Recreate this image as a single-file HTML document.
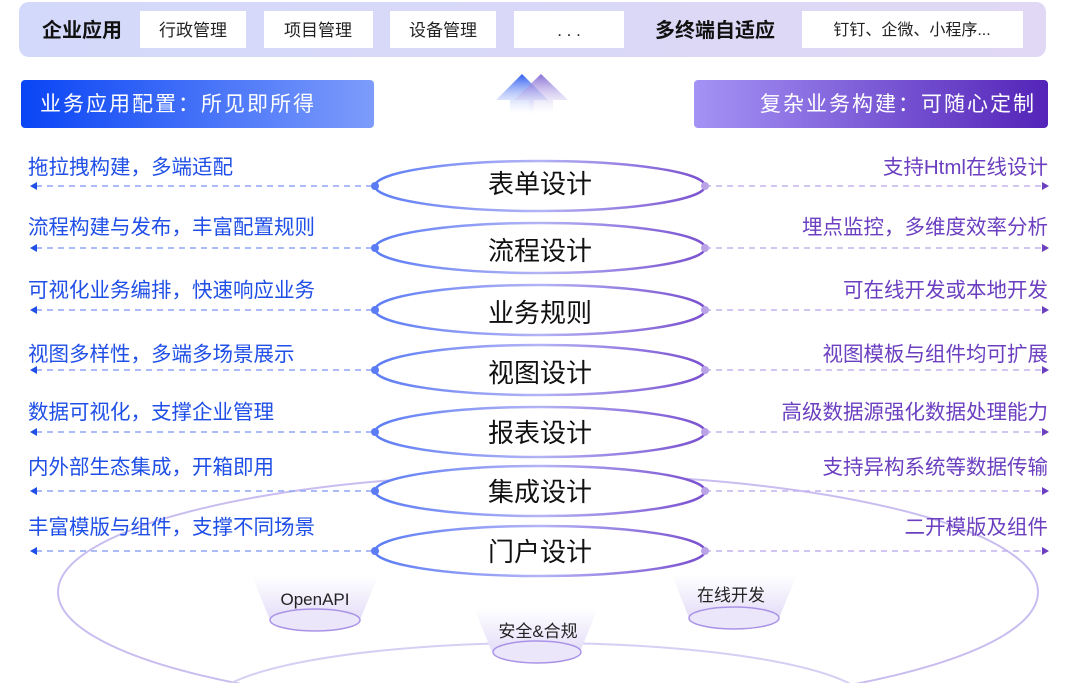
<!DOCTYPE html>
<html><head><meta charset="utf-8"><style>
body{margin:0;width:1080px;height:683px;overflow:hidden;background:#fff;font-family:"Liberation Sans","Noto Sans CJK SC",sans-serif}
svg{display:block}
</style></head><body>
<svg width="1080" height="683" viewBox="0 0 1080 683" xmlns="http://www.w3.org/2000/svg" font-family="Liberation Sans, Noto Sans CJK SC, sans-serif">
<defs>
<linearGradient id="top" x1="0" x2="1"><stop offset="0" stop-color="#d3d9fb"/><stop offset="1" stop-color="#e0d8f4"/></linearGradient>
<linearGradient id="lb" x1="0" x2="1"><stop offset="0" stop-color="#0a45f5"/><stop offset="1" stop-color="#7d9cfb"/></linearGradient>
<linearGradient id="rb" x1="0" x2="1"><stop offset="0" stop-color="#a493f5"/><stop offset="1" stop-color="#5424b8"/></linearGradient>
<linearGradient id="ring" x1="0" x2="1"><stop offset="0" stop-color="#5b7cf5"/><stop offset="0.5" stop-color="#b4b4f5"/><stop offset="1" stop-color="#7a4fcf"/></linearGradient>
<linearGradient id="cup" x1="0" x2="0" y1="0" y2="1"><stop offset="0" stop-color="#fff"/><stop offset="1" stop-color="#e4ddf8"/></linearGradient>
<linearGradient id="a1" x1="0" x2="0" y1="0" y2="1"><stop offset="0" stop-color="#2c5cf0"/><stop offset="1" stop-color="#fff" stop-opacity="0.2"/></linearGradient>
<linearGradient id="a2" x1="0" x2="0" y1="0" y2="1"><stop offset="0" stop-color="#7b5fd0"/><stop offset="1" stop-color="#fff" stop-opacity="0.2"/></linearGradient>
</defs>
<rect x="19" y="2" width="1027" height="55" rx="10" fill="url(#top)"/>
<text x="42" y="37" font-size="20" font-weight="bold" fill="#111">企业应用</text>
<g font-size="17" fill="#222" text-anchor="middle">
<rect x="140" y="11" width="106" height="37" fill="#fff"/><text x="193" y="36">行政管理</text>
<rect x="264" y="11" width="109" height="37" fill="#fff"/><text x="318" y="36">项目管理</text>
<rect x="390" y="11" width="106" height="37" fill="#fff"/><text x="443" y="36">设备管理</text>
<rect x="514" y="11" width="110" height="37" fill="#fff"/><text x="569" y="36">. . .</text>
<rect x="802" y="11" width="221" height="37" fill="#fff"/><text x="912" y="35" font-size="16">钉钉、企微、小程序...</text>
</g>
<text x="655" y="37" font-size="20" font-weight="bold" fill="#111">多终端自适应</text>
<rect x="21" y="80" width="353" height="48" rx="4" fill="url(#lb)"/>
<text x="40" y="111" font-size="21" fill="#fff" letter-spacing="2">业务应用配置：所见即所得</text>
<rect x="694" y="80" width="354" height="48" rx="4" fill="url(#rb)"/>
<text x="1036" y="111" font-size="21" fill="#fff" text-anchor="end" letter-spacing="2">复杂业务构建：可随心定制</text>
<path d="M496 100 L522 74 L548 100 L534 100 L534 114 L510 114 L510 100Z" fill="url(#a1)"/>
<path d="M514 100 L541 74 L568 100 L553 100 L553 114 L529 114 L529 100Z" fill="url(#a2)" opacity="0.9"/>
<ellipse cx="548" cy="592" rx="490" ry="118" fill="none" stroke="#c9bdf0" stroke-width="2"/>
<ellipse cx="540" cy="705" rx="330" ry="62" fill="none" stroke="#d7cff3" stroke-width="2"/>
<g font-size="17" fill="#222" text-anchor="middle">
<path d="M252 576 L378 576 L360 620 L270 620Z" fill="url(#cup)"/><ellipse cx="315" cy="620" rx="45" ry="11" fill="#ece6fb" stroke="#a993e6" stroke-width="1.5"/><text x="315" y="605">OpenAPI</text>
<path d="M672 575 L797 575 L779 618 L689 618Z" fill="url(#cup)"/><ellipse cx="734" cy="618" rx="45" ry="11" fill="#ece6fb" stroke="#a993e6" stroke-width="1.5"/><text x="731" y="601">在线开发</text>
<path d="M474 608 L598 608 L580 652 L492 652Z" fill="url(#cup)"/><ellipse cx="537" cy="652" rx="44" ry="11" fill="#ece6fb" stroke="#a993e6" stroke-width="1.5"/><text x="538" y="637">安全&amp;合规</text>
</g>
<g font-size="20.5" fill="#1f4fe6">
<text x="28" y="174">拖拉拽构建，多端适配</text>
<text x="28" y="234">流程构建与发布，丰富配置规则</text>
<text x="28" y="297">可视化业务编排，快速响应业务</text>
<text x="28" y="361">视图多样性，多端多场景展示</text>
<text x="28" y="419">数据可视化，支撑企业管理</text>
<text x="28" y="474">内外部生态集成，开箱即用</text>
<text x="28" y="534">丰富模版与组件，支撑不同场景</text>
</g>
<g font-size="20.5" fill="#6b3fc0" text-anchor="end">
<text x="1048" y="174">支持Html在线设计</text>
<text x="1048" y="234">埋点监控，多维度效率分析</text>
<text x="1048" y="297">可在线开发或本地开发</text>
<text x="1048" y="361">视图模板与组件均可扩展</text>
<text x="1048" y="419">高级数据源强化数据处理能力</text>
<text x="1048" y="474">支持异构系统等数据传输</text>
<text x="1048" y="534">二开模版及组件</text>
</g>
<g stroke-dasharray="6 5" stroke-width="1.5">
<g stroke="#8fa6f5">
<line x1="36" y1="186" x2="375" y2="186"/><line x1="36" y1="248" x2="375" y2="248"/><line x1="36" y1="310" x2="375" y2="310"/><line x1="36" y1="370" x2="375" y2="370"/><line x1="36" y1="432" x2="375" y2="432"/><line x1="36" y1="491" x2="375" y2="491"/><line x1="36" y1="551" x2="375" y2="551"/>
</g>
<g stroke="#c3b2ee">
<line x1="705" y1="186" x2="1042" y2="186"/><line x1="705" y1="248" x2="1042" y2="248"/><line x1="705" y1="310" x2="1042" y2="310"/><line x1="705" y1="370" x2="1042" y2="370"/><line x1="705" y1="432" x2="1042" y2="432"/><line x1="705" y1="491" x2="1042" y2="491"/><line x1="705" y1="551" x2="1042" y2="551"/>
</g>
</g>
<g fill="#1f4fe6">
<path d="M30 186l7-4v8z"/><path d="M30 248l7-4v8z"/><path d="M30 310l7-4v8z"/><path d="M30 370l7-4v8z"/><path d="M30 432l7-4v8z"/><path d="M30 491l7-4v8z"/><path d="M30 551l7-4v8z"/>
</g>
<g fill="#6b3fc0">
<path d="M1049 186l-7-4v8z"/><path d="M1049 248l-7-4v8z"/><path d="M1049 310l-7-4v8z"/><path d="M1049 370l-7-4v8z"/><path d="M1049 432l-7-4v8z"/><path d="M1049 491l-7-4v8z"/><path d="M1049 551l-7-4v8z"/>
</g>
<g fill="#fff" stroke="url(#ring)" stroke-width="2.5">
<ellipse cx="540" cy="186" rx="165" ry="25"/>
<ellipse cx="540" cy="248" rx="165" ry="25"/>
<ellipse cx="540" cy="310" rx="165" ry="25"/>
<ellipse cx="540" cy="370" rx="165" ry="25"/>
<ellipse cx="540" cy="432" rx="165" ry="25"/>
<ellipse cx="540" cy="491" rx="165" ry="25"/>
<ellipse cx="540" cy="551" rx="165" ry="25"/>
</g>
<g fill="#5b7cf5"><circle cx="375" cy="186" r="4"/><circle cx="375" cy="248" r="4"/><circle cx="375" cy="310" r="4"/><circle cx="375" cy="370" r="4"/><circle cx="375" cy="432" r="4"/><circle cx="375" cy="491" r="4"/><circle cx="375" cy="551" r="4"/></g>
<g fill="#b9a3e6"><circle cx="705" cy="186" r="4"/><circle cx="705" cy="248" r="4"/><circle cx="705" cy="310" r="4"/><circle cx="705" cy="370" r="4"/><circle cx="705" cy="432" r="4"/><circle cx="705" cy="491" r="4"/><circle cx="705" cy="551" r="4"/></g>
<g font-size="26" fill="#111" text-anchor="middle">
<text x="540" y="193">表单设计</text>
<text x="540" y="260">流程设计</text>
<text x="540" y="322">业务规则</text>
<text x="540" y="382">视图设计</text>
<text x="540" y="442">报表设计</text>
<text x="540" y="501">集成设计</text>
<text x="540" y="561">门户设计</text>
</g>
</svg>
</body></html>
